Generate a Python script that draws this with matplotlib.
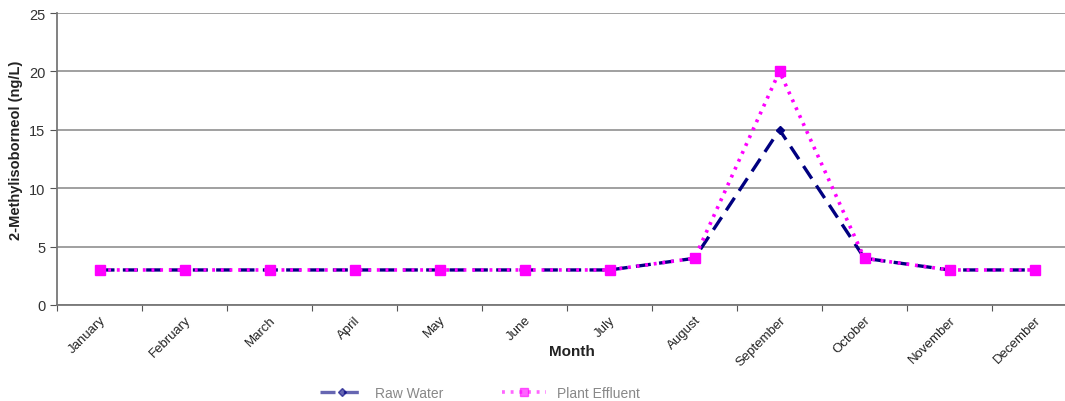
import matplotlib.pyplot as plt

months = ['January', 'February', 'March', 'April', 'May', 'June', 'July',
          'August', 'September', 'October', 'November', 'December']
raw_water = [3, 3, 3, 3, 3, 3, 3, 4, 15, 4, 3, 3]
plant_effluent = [3, 3, 3, 3, 3, 3, 3, 4, 20, 4, 3, 3]

plt.rcParams['font.family'] = ['Liberation Sans', 'DejaVu Sans']

fig = plt.figure(figsize=(10.65, 4.02), dpi=100)
# the original is cropped on the right, so the axes run past the figure edge
ax = fig.add_axes([57 / 1065, 96 / 402, 1020 / 1065, 292 / 402])

x = list(range(len(months)))
ax.plot(x, raw_water, color='#000080', linestyle=(0, (4.5, 2.5)), linewidth=2.4,
        marker='D', markersize=4, label='Raw Water', zorder=3)
ax.plot(x, plant_effluent, color='#ff00ff', linestyle=(0, (0.8, 1.6)), linewidth=2.6,
        marker='s', markersize=7, label='Plant Effluent', zorder=4)

ax.set_xlim(-0.5, 11.5)
ax.set_ylim(0, 25)
ax.set_yticks([0, 5, 10, 15, 20, 25])
ax.yaxis.grid(True, color='#999999', linewidth=1.3)
ax.set_axisbelow(True)

# category boundaries carry the tick marks, labels sit at category centres
ax.set_xticks([i - 0.5 for i in range(13)])
ax.set_xticklabels([])
ax.set_xticks(x, minor=True)
ax.set_xticklabels(months, minor=True, rotation=45, ha='right', rotation_mode='anchor',
                   fontsize=9.5, color='#222222')
ax.tick_params(axis='x', which='minor', length=0, pad=6)
ax.tick_params(axis='x', which='major', length=4, color='#555555')
ax.tick_params(axis='y', length=5, color='#555555', labelsize=10.5, labelcolor='#333333')

for side in ['top', 'right']:
    ax.spines[side].set_visible(False)
for side in ['left', 'bottom']:
    ax.spines[side].set_color('#777777')
    ax.spines[side].set_linewidth(1.3)

fig.text(16 / 1065, 1 - 150 / 402, '2-Methylisoborneol (ng/L)', rotation=90,
         ha='center', va='center', fontsize=10.5, fontweight='bold', color='#222222')
fig.text(572 / 1065, 1 - 352 / 402, 'Month', ha='center', va='center',
         fontsize=11, fontweight='bold', color='#222222')

leg = fig.legend(loc='center', bbox_to_anchor=(480 / 1065, 1 - 394 / 402), ncol=2,
                 frameon=False, fontsize=10, labelcolor='#888888', handlelength=3.2,
                 columnspacing=4.2, markerscale=0.9)
for h in leg.legend_handles:
    h.set_alpha(0.6)

plt.savefig('out.png', dpi=100)
